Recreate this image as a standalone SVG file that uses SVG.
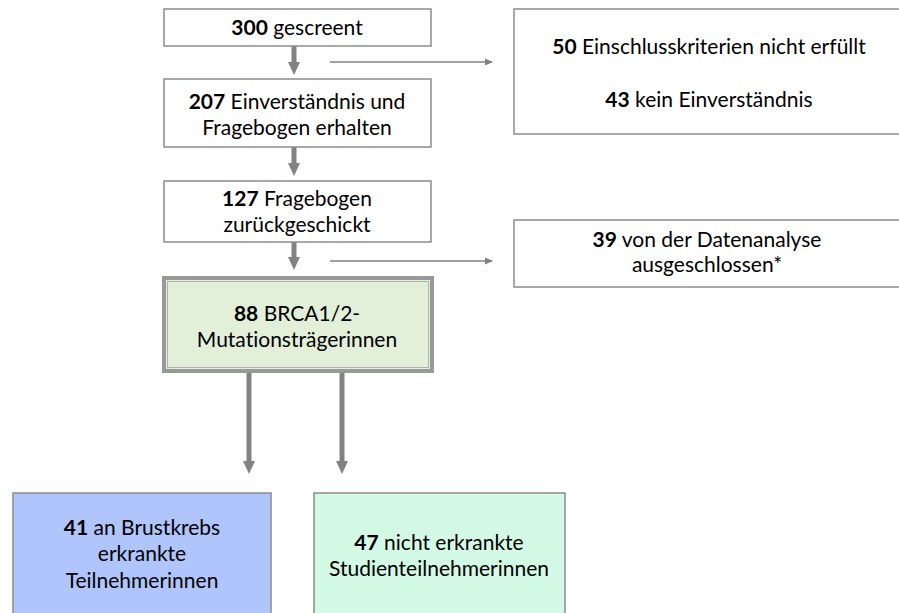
<svg xmlns="http://www.w3.org/2000/svg" width="899" height="613" viewBox="0 0 899 613">
<style>
.box{fill:#fff;stroke:#8c8c8c;stroke-width:1.5}
.t{font-family:Lato,"Open Sans","Liberation Sans",sans-serif;font-size:21px;fill:#000;text-anchor:middle;font-variant-ligatures:none}
.b{font-weight:bold}
.thick{stroke:#828282;stroke-width:5;fill:none}
.thin{stroke:#828282;stroke-width:1.5;fill:none}
</style>
<defs>
<marker id="hd" markerWidth="2.6" markerHeight="2.6" refX="1.2" refY="1.3" orient="auto" markerUnits="strokeWidth" viewBox="0 0 2.6 2.6">
<path d="M0,0.1 L2.6,1.3 L0,2.5 Z" fill="#828282"/>
</marker>
<marker id="hs" markerWidth="8" markerHeight="8" refX="7" refY="4" orient="auto" markerUnits="userSpaceOnUse" viewBox="0 0 8 8">
<path d="M0,0.5 L8,4 L0,7.5 Z" fill="#828282"/>
</marker>
</defs>
<rect width="899" height="613" fill="#fff"/>
<g id="connectors">
<line class="thick" x1="294" y1="46" x2="294" y2="68" marker-end="url(#hd)"/>
<line class="thick" x1="294" y1="147" x2="294" y2="169" marker-end="url(#hd)"/>
<line class="thick" x1="294" y1="242" x2="294" y2="263" marker-end="url(#hd)"/>
<line class="thick" x1="249" y1="372" x2="249" y2="467" marker-end="url(#hd)"/>
<line class="thick" x1="342" y1="372" x2="342" y2="467" marker-end="url(#hd)"/>
<line class="thin" x1="330" y1="62" x2="492" y2="62" marker-end="url(#hs)"/>
<line class="thin" x1="330" y1="261" x2="492" y2="261" marker-end="url(#hs)"/>
</g>
<g id="n1">
<rect class="box" x="164" y="9" width="267" height="37"/>
<text class="t" x="297" y="35"><tspan class="b">300</tspan> gescreent</text>
</g>
<g id="n2">
<rect class="box" x="164" y="79" width="267" height="68"/>
<text class="t" x="297" y="109"><tspan class="b">207</tspan> Einverständnis und</text>
<text class="t" x="297" y="135">Fragebogen erhalten</text>
</g>
<g id="n3">
<rect class="box" x="164" y="181" width="267" height="61"/>
<text class="t" x="297" y="206"><tspan class="b">127</tspan> Fragebogen</text>
<text class="t" x="297" y="232">zurückgeschickt</text>
</g>
<g id="n4">
<rect x="164" y="278" width="268" height="93" fill="#e2efd9" stroke="#999" stroke-width="4"/>
<rect x="167.5" y="281.5" width="261" height="86" fill="none" stroke="#b0b0b0" stroke-width="1"/>
<text class="t" x="297" y="321"><tspan class="b">88</tspan> BRCA1/2-</text>
<text class="t" x="297" y="347">Mutationsträgerinnen</text>
</g>
<g id="e1">
<rect class="box" x="514" y="9" width="400" height="125"/>
<text class="t" x="709" y="54"><tspan class="b">50</tspan> Einschlusskriterien nicht erfüllt</text>
<text class="t" x="709" y="107"><tspan class="b">43</tspan> kein Einverständnis</text>
</g>
<g id="e2">
<rect class="box" x="514" y="220" width="400" height="67"/>
<text class="t" x="707" y="247"><tspan class="b">39</tspan> von der Datenanalyse</text>
<text class="t" x="707" y="272">ausgeschlossen*</text>
</g>
<g id="g1">
<rect x="13" y="493" width="258" height="130" fill="#afc5fb" stroke="#8c8c8c" stroke-width="1.5"/>
<text class="t" x="142" y="535"><tspan class="b">41</tspan> an Brustkrebs</text>
<text class="t" x="142" y="561">erkrankte</text>
<text class="t" x="142" y="588">Teilnehmerinnen</text>
</g>
<g id="g2">
<rect x="314" y="493" width="251" height="130" fill="#d3fae5" stroke="#8c8c8c" stroke-width="1.5"/>
<text class="t" x="439" y="550"><tspan class="b">47</tspan> nicht erkrankte</text>
<text class="t" x="439" y="576">Studienteilnehmerinnen</text>
</g>
</svg>
